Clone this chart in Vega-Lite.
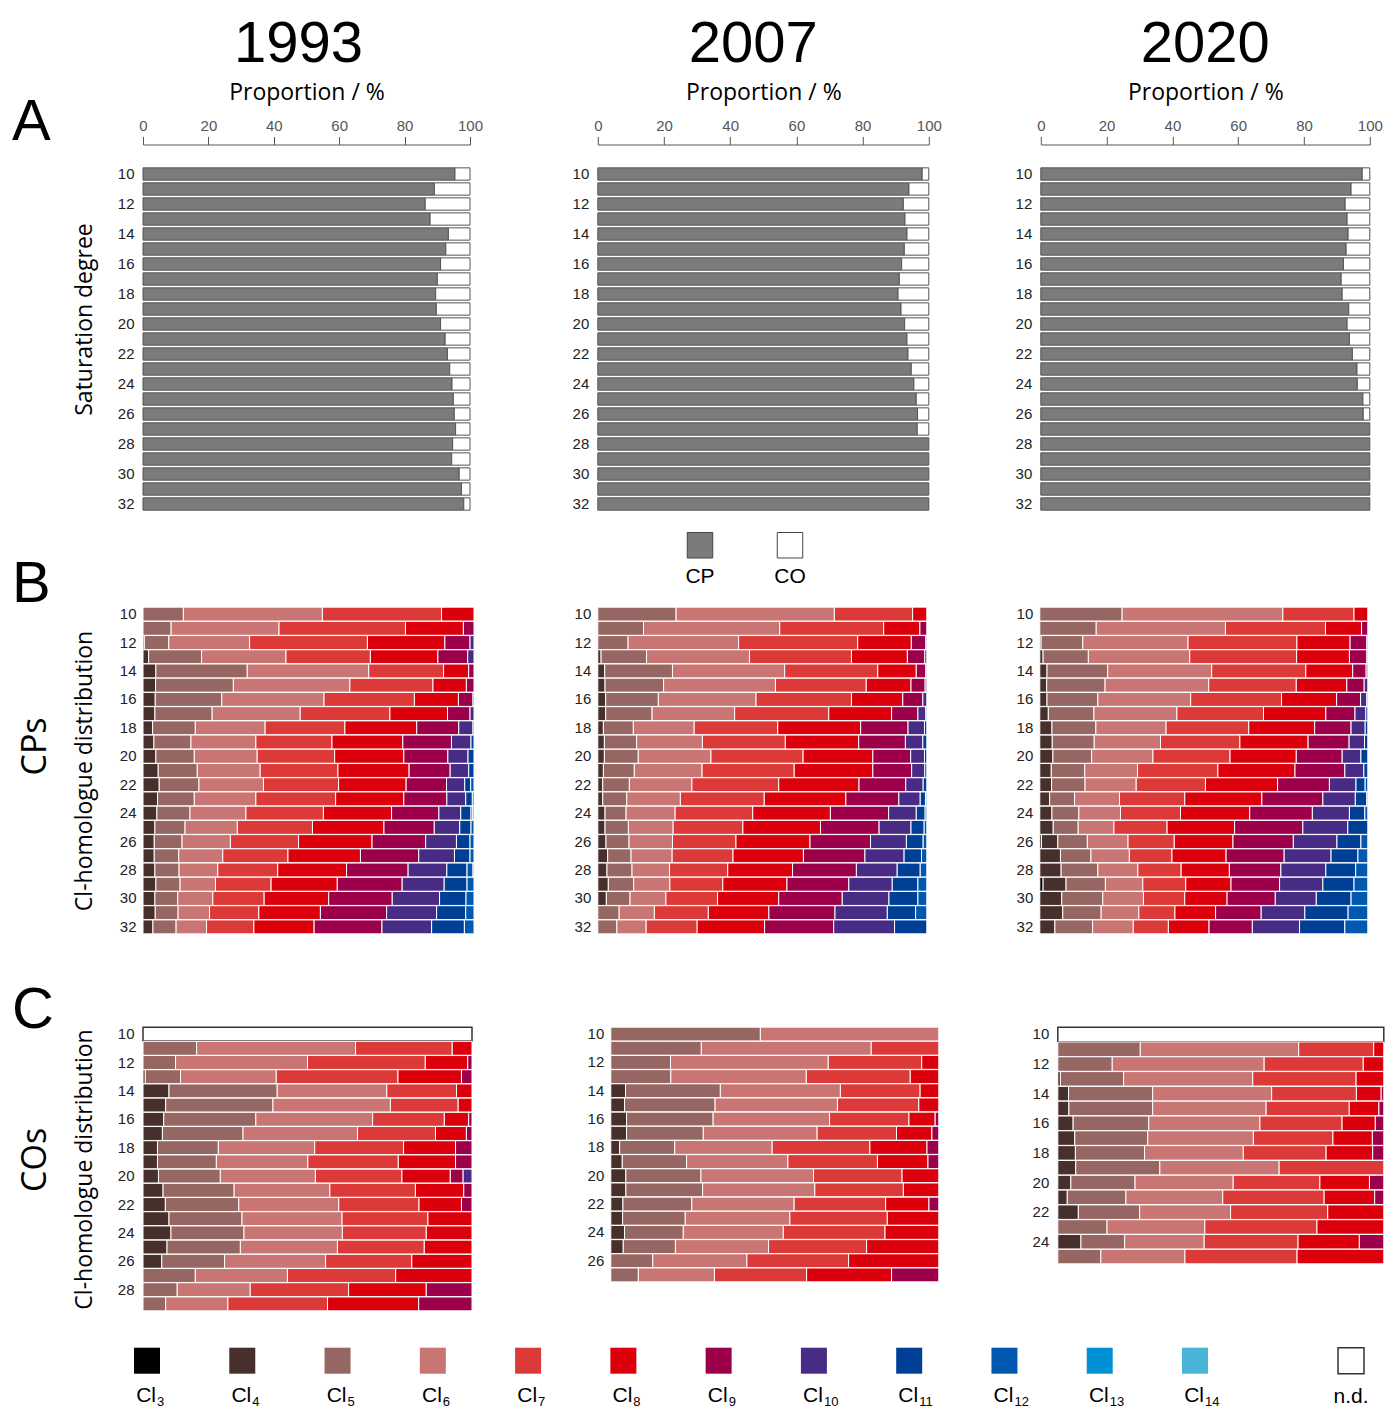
{
"$schema": "https://vega.github.io/schema/vega-lite/v6.json",
"background": "white",
"padding": {"left": 12, "top": 15.5, "right": 0, "bottom": 0},
"config": {
  "view": {"stroke": null},
  "axis": {"labelFont": "Liberation Sans", "labelFontSize": 15, "labelColor": "#222", "titleFont": "Open Sans", "titleFontSize": 23, "titleFontWeight": "normal", "titleColor": "#000", "grid": false},
  "title": {"font": "Liberation Sans", "fontWeight": "normal", "color": "#000"},
  "text": {"font": "Liberation Sans", "color": "#000"}
},
"datasets": {
  "sat": [
    {"yr":1993,"n":10,"CP":95.4,"CO":4.6},{"yr":1993,"n":11,"CP":89.1,"CO":10.9},{"yr":1993,"n":12,"CP":86.3,"CO":13.7},{"yr":1993,"n":13,"CP":87.8,"CO":12.2},{"yr":1993,"n":14,"CP":93.4,"CO":6.6},{"yr":1993,"n":15,"CP":92.6,"CO":7.4},{"yr":1993,"n":16,"CP":91.0,"CO":9.0},{"yr":1993,"n":17,"CP":90.0,"CO":10.0},{"yr":1993,"n":18,"CP":89.5,"CO":10.5},{"yr":1993,"n":19,"CP":89.7,"CO":10.3},{"yr":1993,"n":20,"CP":91.0,"CO":9.0},{"yr":1993,"n":21,"CP":92.4,"CO":7.6},{"yr":1993,"n":22,"CP":93.1,"CO":6.9},{"yr":1993,"n":23,"CP":93.8,"CO":6.2},{"yr":1993,"n":24,"CP":94.5,"CO":5.5},{"yr":1993,"n":25,"CP":94.9,"CO":5.1},{"yr":1993,"n":26,"CP":95.2,"CO":4.8},{"yr":1993,"n":27,"CP":95.6,"CO":4.4},{"yr":1993,"n":28,"CP":94.7,"CO":5.3},{"yr":1993,"n":29,"CP":94.4,"CO":5.6},{"yr":1993,"n":30,"CP":96.7,"CO":3.3},{"yr":1993,"n":31,"CP":97.4,"CO":2.6},{"yr":1993,"n":32,"CP":98.1,"CO":1.9},
    {"yr":2007,"n":10,"CP":98.0,"CO":2.0},{"yr":2007,"n":11,"CP":94.0,"CO":6.0},{"yr":2007,"n":12,"CP":92.3,"CO":7.7},{"yr":2007,"n":13,"CP":92.8,"CO":7.2},{"yr":2007,"n":14,"CP":93.4,"CO":6.6},{"yr":2007,"n":15,"CP":92.6,"CO":7.4},{"yr":2007,"n":16,"CP":91.8,"CO":8.2},{"yr":2007,"n":17,"CP":91.1,"CO":8.9},{"yr":2007,"n":18,"CP":90.7,"CO":9.3},{"yr":2007,"n":19,"CP":91.6,"CO":8.4},{"yr":2007,"n":20,"CP":92.7,"CO":7.3},{"yr":2007,"n":21,"CP":93.4,"CO":6.6},{"yr":2007,"n":22,"CP":93.7,"CO":6.3},{"yr":2007,"n":23,"CP":94.7,"CO":5.3},{"yr":2007,"n":24,"CP":95.5,"CO":4.5},{"yr":2007,"n":25,"CP":96.2,"CO":3.8},{"yr":2007,"n":26,"CP":96.6,"CO":3.4},{"yr":2007,"n":27,"CP":96.5,"CO":3.5},{"yr":2007,"n":28,"CP":100},{"yr":2007,"n":29,"CP":100},{"yr":2007,"n":30,"CP":100},{"yr":2007,"n":31,"CP":100},{"yr":2007,"n":32,"CP":100},
    {"yr":2020,"n":10,"CP":97.7,"CO":2.3},{"yr":2020,"n":11,"CP":94.3,"CO":5.7},{"yr":2020,"n":12,"CP":92.5,"CO":7.5},{"yr":2020,"n":13,"CP":93.1,"CO":6.9},{"yr":2020,"n":14,"CP":93.4,"CO":6.6},{"yr":2020,"n":15,"CP":92.8,"CO":7.2},{"yr":2020,"n":16,"CP":92.0,"CO":8.0},{"yr":2020,"n":17,"CP":91.3,"CO":8.7},{"yr":2020,"n":18,"CP":91.6,"CO":8.4},{"yr":2020,"n":19,"CP":93.6,"CO":6.4},{"yr":2020,"n":20,"CP":93.1,"CO":6.9},{"yr":2020,"n":21,"CP":93.8,"CO":6.2},{"yr":2020,"n":22,"CP":94.7,"CO":5.3},{"yr":2020,"n":23,"CP":96.1,"CO":3.9},{"yr":2020,"n":24,"CP":96.2,"CO":3.8},{"yr":2020,"n":25,"CP":97.9,"CO":2.1},{"yr":2020,"n":26,"CP":98.0,"CO":2.0},{"yr":2020,"n":27,"CP":100},{"yr":2020,"n":28,"CP":100},{"yr":2020,"n":29,"CP":100},{"yr":2020,"n":30,"CP":100},{"yr":2020,"n":31,"CP":100},{"yr":2020,"n":32,"CP":100}
  ],
  "cp": [
    {"yr":1993,"n":10,"Cl05":12.2,"Cl06":42.0,"Cl07":36.0,"Cl08":9.8},
    {"yr":1993,"n":11,"Cl05":8.5,"Cl06":32.6,"Cl07":38.2,"Cl08":17.5,"Cl09":3.2},
    {"yr":1993,"n":12,"Cl04":0.4,"Cl05":7.4,"Cl06":24.4,"Cl07":35.6,"Cl08":23.4,"Cl09":7.6,"Cl10":1.2},
    {"yr":1993,"n":13,"Cl04":1.7,"Cl05":16.0,"Cl06":25.5,"Cl07":25.5,"Cl08":20.4,"Cl09":9.0,"Cl10":1.9},
    {"yr":1993,"n":14,"Cl04":3.9,"Cl05":27.6,"Cl06":36.7,"Cl07":22.6,"Cl08":7.6,"Cl09":1.6},
    {"yr":1993,"n":15,"Cl04":3.8,"Cl05":23.5,"Cl06":35.2,"Cl07":25.1,"Cl08":10.1,"Cl09":2.3},
    {"yr":1993,"n":16,"Cl04":3.7,"Cl05":20.1,"Cl06":30.9,"Cl07":27.3,"Cl08":13.3,"Cl09":4.4,"Cl10":0.3},
    {"yr":1993,"n":17,"Cl04":3.6,"Cl05":17.3,"Cl06":26.6,"Cl07":27.1,"Cl08":17.4,"Cl09":6.8,"Cl10":1.2},
    {"yr":1993,"n":18,"Cl04":2.9,"Cl05":12.9,"Cl06":21.1,"Cl07":24.1,"Cl08":21.7,"Cl09":12.7,"Cl10":4.3,"Cl11":0.3},
    {"yr":1993,"n":19,"Cl04":3.3,"Cl05":11.2,"Cl06":19.6,"Cl07":23.0,"Cl08":21.4,"Cl09":14.7,"Cl10":5.9,"Cl11":0.9},
    {"yr":1993,"n":20,"Cl04":3.9,"Cl05":11.6,"Cl06":19.0,"Cl07":23.4,"Cl08":20.9,"Cl09":13.3,"Cl10":6.1,"Cl11":1.8},
    {"yr":1993,"n":21,"Cl04":4.6,"Cl05":11.8,"Cl06":19.0,"Cl07":23.5,"Cl08":21.5,"Cl09":12.4,"Cl10":5.6,"Cl11":1.6},
    {"yr":1993,"n":22,"Cl04":4.9,"Cl05":12.0,"Cl06":19.5,"Cl07":22.7,"Cl08":20.4,"Cl09":12.2,"Cl10":5.5,"Cl11":1.8,"Cl12":1.0},
    {"yr":1993,"n":23,"Cl04":4.4,"Cl05":11.1,"Cl06":18.6,"Cl07":24.1,"Cl08":20.6,"Cl09":13.0,"Cl10":5.7,"Cl11":2.0,"Cl12":0.5},
    {"yr":1993,"n":24,"Cl04":4.2,"Cl05":10.0,"Cl06":16.9,"Cl07":23.4,"Cl08":20.6,"Cl09":14.3,"Cl10":6.6,"Cl11":3.1,"Cl12":0.5,"Cl13":0.4},
    {"yr":1993,"n":25,"Cl04":3.6,"Cl05":9.1,"Cl06":15.8,"Cl07":22.7,"Cl08":21.6,"Cl09":15.2,"Cl10":7.7,"Cl11":3.4,"Cl12":0.9},
    {"yr":1993,"n":26,"Cl04":3.4,"Cl05":8.4,"Cl06":14.6,"Cl07":20.6,"Cl08":22.2,"Cl09":16.2,"Cl10":9.3,"Cl11":4.1,"Cl12":1.2},
    {"yr":1993,"n":27,"Cl04":3.4,"Cl05":7.4,"Cl06":13.3,"Cl07":19.7,"Cl08":21.9,"Cl09":17.6,"Cl10":10.8,"Cl11":4.7,"Cl12":1.2},
    {"yr":1993,"n":28,"Cl04":3.6,"Cl05":7.3,"Cl06":11.7,"Cl07":18.1,"Cl08":20.8,"Cl09":18.6,"Cl10":11.7,"Cl11":6.1,"Cl12":1.8,"Cl13":0.3},
    {"yr":1993,"n":29,"Cl04":3.9,"Cl05":7.3,"Cl06":10.7,"Cl07":16.8,"Cl08":20.0,"Cl09":19.6,"Cl10":12.7,"Cl11":6.9,"Cl12":2.1},
    {"yr":1993,"n":30,"Cl04":3.6,"Cl05":6.9,"Cl06":10.6,"Cl07":15.5,"Cl08":19.5,"Cl09":19.2,"Cl10":14.3,"Cl11":8.0,"Cl12":2.4},
    {"yr":1993,"n":31,"Cl04":3.7,"Cl05":6.9,"Cl06":9.5,"Cl07":14.9,"Cl08":18.6,"Cl09":20.0,"Cl10":15.1,"Cl11":8.8,"Cl12":2.5},
    {"yr":1993,"n":32,"Cl04":3.0,"Cl05":7.0,"Cl06":9.2,"Cl07":14.3,"Cl08":18.2,"Cl09":20.5,"Cl10":15.0,"Cl11":9.9,"Cl12":2.9},
    {"yr":2007,"n":10,"Cl05":23.8,"Cl06":48.1,"Cl07":23.8,"Cl08":4.3},
    {"yr":2007,"n":11,"Cl05":13.9,"Cl06":41.4,"Cl07":31.6,"Cl08":11.0,"Cl09":2.1},
    {"yr":2007,"n":12,"Cl05":9.2,"Cl06":33.6,"Cl07":36.2,"Cl08":16.3,"Cl09":4.4,"Cl10":0.3},
    {"yr":2007,"n":13,"Cl04":1.0,"Cl05":13.8,"Cl06":31.3,"Cl07":31.0,"Cl08":17.0,"Cl09":5.3,"Cl10":0.6},
    {"yr":2007,"n":14,"Cl04":2.1,"Cl05":20.6,"Cl06":34.1,"Cl07":28.3,"Cl08":11.7,"Cl09":2.9,"Cl10":0.3},
    {"yr":2007,"n":15,"Cl04":2.2,"Cl05":17.8,"Cl06":34.0,"Cl07":27.6,"Cl08":13.6,"Cl09":4.3,"Cl10":0.5},
    {"yr":2007,"n":16,"Cl04":2.4,"Cl05":16.0,"Cl06":29.7,"Cl07":29.0,"Cl08":15.6,"Cl09":6.1,"Cl10":1.2},
    {"yr":2007,"n":17,"Cl04":2.4,"Cl05":14.1,"Cl06":25.1,"Cl07":28.6,"Cl08":19.1,"Cl09":8.0,"Cl10":2.4,"Cl11":0.3},
    {"yr":2007,"n":18,"Cl04":1.7,"Cl05":9.1,"Cl06":18.5,"Cl07":25.4,"Cl08":25.2,"Cl09":14.4,"Cl10":5.0,"Cl11":0.7},
    {"yr":2007,"n":19,"Cl04":2.0,"Cl05":9.8,"Cl06":20.0,"Cl07":25.2,"Cl08":22.3,"Cl09":14.2,"Cl10":5.3,"Cl11":1.2},
    {"yr":2007,"n":20,"Cl04":2.0,"Cl05":10.3,"Cl06":22.1,"Cl07":28.0,"Cl08":21.2,"Cl09":11.5,"Cl10":4.2,"Cl11":0.7},
    {"yr":2007,"n":21,"Cl04":1.7,"Cl05":9.4,"Cl06":20.6,"Cl07":28.0,"Cl08":23.9,"Cl09":11.8,"Cl10":4.0,"Cl11":0.6},
    {"yr":2007,"n":22,"Cl04":1.5,"Cl05":8.1,"Cl06":19.0,"Cl07":26.4,"Cl08":24.4,"Cl09":14.2,"Cl10":5.3,"Cl11":1.1},
    {"yr":2007,"n":23,"Cl04":1.5,"Cl05":7.3,"Cl06":16.3,"Cl07":25.5,"Cl08":24.8,"Cl09":16.1,"Cl10":6.5,"Cl11":1.6,"Cl12":0.4},
    {"yr":2007,"n":24,"Cl04":2.2,"Cl05":6.4,"Cl06":14.9,"Cl07":23.6,"Cl08":23.6,"Cl09":17.7,"Cl10":8.4,"Cl11":2.7,"Cl12":0.5},
    {"yr":2007,"n":25,"Cl04":2.2,"Cl05":7.1,"Cl06":13.6,"Cl07":21.2,"Cl08":23.6,"Cl09":17.8,"Cl10":9.7,"Cl11":4.0,"Cl12":0.8},
    {"yr":2007,"n":26,"Cl04":2.5,"Cl05":7.0,"Cl06":13.2,"Cl07":19.3,"Cl08":22.5,"Cl09":18.4,"Cl10":10.9,"Cl11":5.1,"Cl12":1.1},
    {"yr":2007,"n":27,"Cl04":3.0,"Cl05":7.1,"Cl06":12.5,"Cl07":18.5,"Cl08":21.4,"Cl09":18.7,"Cl10":11.9,"Cl11":5.3,"Cl12":1.6},
    {"yr":2007,"n":28,"Cl04":2.8,"Cl05":7.6,"Cl06":11.4,"Cl07":17.7,"Cl08":19.7,"Cl09":19.4,"Cl10":12.4,"Cl11":7.0,"Cl12":2.0},
    {"yr":2007,"n":29,"Cl04":3.2,"Cl05":7.7,"Cl06":11.0,"Cl07":16.1,"Cl08":19.5,"Cl09":18.8,"Cl10":13.2,"Cl11":7.8,"Cl12":2.7},
    {"yr":2007,"n":30,"Cl04":2.6,"Cl05":7.2,"Cl06":10.9,"Cl07":15.7,"Cl08":18.6,"Cl09":19.3,"Cl10":14.2,"Cl11":8.8,"Cl12":2.7},
    {"yr":2007,"n":31,"Cl05":6.5,"Cl06":10.7,"Cl07":16.4,"Cl08":18.4,"Cl09":20.1,"Cl10":15.9,"Cl11":8.6,"Cl12":3.4},
    {"yr":2007,"n":32,"Cl05":5.8,"Cl06":8.9,"Cl07":15.5,"Cl08":20.5,"Cl09":21.0,"Cl10":18.5,"Cl11":9.8},
    {"yr":2020,"n":10,"Cl05":25.1,"Cl06":49.0,"Cl07":21.7,"Cl08":4.2},
    {"yr":2020,"n":11,"Cl05":17.2,"Cl06":39.4,"Cl07":30.5,"Cl08":11.0,"Cl09":1.9},
    {"yr":2020,"n":12,"Cl04":0.4,"Cl05":12.7,"Cl06":32.1,"Cl07":33.2,"Cl08":16.2,"Cl09":5.1,"Cl10":0.3},
    {"yr":2020,"n":13,"Cl04":1.0,"Cl05":13.8,"Cl06":30.9,"Cl07":32.6,"Cl08":16.1,"Cl09":5.3,"Cl10":0.3},
    {"yr":2020,"n":14,"Cl04":2.2,"Cl05":18.5,"Cl06":31.7,"Cl07":28.7,"Cl08":14.3,"Cl09":4.1,"Cl10":0.5},
    {"yr":2020,"n":15,"Cl04":2.1,"Cl05":17.8,"Cl06":31.6,"Cl07":26.7,"Cl08":15.4,"Cl09":5.3,"Cl10":1.1},
    {"yr":2020,"n":16,"Cl04":2.2,"Cl05":15.5,"Cl06":28.3,"Cl07":27.7,"Cl08":16.8,"Cl09":7.3,"Cl10":1.9,"Cl11":0.3},
    {"yr":2020,"n":17,"Cl04":2.6,"Cl05":13.9,"Cl06":25.3,"Cl07":26.4,"Cl08":19.0,"Cl09":8.9,"Cl10":3.3,"Cl11":0.6},
    {"yr":2020,"n":18,"Cl04":3.7,"Cl05":13.4,"Cl06":21.4,"Cl07":25.2,"Cl08":20.1,"Cl09":11.1,"Cl10":4.3,"Cl11":0.8},
    {"yr":2020,"n":19,"Cl04":3.8,"Cl05":12.8,"Cl06":20.2,"Cl07":24.2,"Cl08":20.8,"Cl09":12.5,"Cl10":4.7,"Cl11":1.0},
    {"yr":2020,"n":20,"Cl04":4.0,"Cl05":11.8,"Cl06":18.7,"Cl07":23.5,"Cl08":20.2,"Cl09":14.0,"Cl10":5.7,"Cl11":2.1},
    {"yr":2020,"n":21,"Cl04":3.5,"Cl05":10.2,"Cl06":16.1,"Cl07":24.5,"Cl08":23.5,"Cl09":15.2,"Cl10":5.8,"Cl11":1.2},
    {"yr":2020,"n":22,"Cl04":3.6,"Cl05":10.2,"Cl06":15.6,"Cl07":21.1,"Cl08":22.0,"Cl09":15.8,"Cl10":8.1,"Cl11":2.8,"Cl12":0.8},
    {"yr":2020,"n":23,"Cl04":3.0,"Cl05":7.6,"Cl06":13.7,"Cl07":19.9,"Cl08":23.5,"Cl09":18.6,"Cl10":9.9,"Cl11":3.5,"Cl12":0.3},
    {"yr":2020,"n":24,"Cl04":3.7,"Cl05":8.2,"Cl06":12.7,"Cl07":18.3,"Cl08":21.1,"Cl09":19.1,"Cl10":11.3,"Cl11":4.7,"Cl12":0.9},
    {"yr":2020,"n":25,"Cl04":4.1,"Cl05":7.6,"Cl06":10.9,"Cl07":16.2,"Cl08":20.6,"Cl09":20.8,"Cl10":13.7,"Cl11":6.1},
    {"yr":2020,"n":26,"Cl03":0.5,"Cl04":5.0,"Cl05":9.0,"Cl06":12.4,"Cl07":14.1,"Cl08":17.9,"Cl09":18.4,"Cl10":13.3,"Cl11":7.3,"Cl12":2.1},
    {"yr":2020,"n":27,"Cl04":6.3,"Cl05":9.3,"Cl06":11.7,"Cl07":13.0,"Cl08":16.5,"Cl09":17.7,"Cl10":14.3,"Cl11":8.2,"Cl12":3.0},
    {"yr":2020,"n":28,"Cl04":6.5,"Cl05":11.2,"Cl06":12.2,"Cl07":13.2,"Cl08":14.7,"Cl09":15.7,"Cl10":13.7,"Cl11":9.1,"Cl12":3.7},
    {"yr":2020,"n":29,"Cl03":1.0,"Cl04":7.0,"Cl05":12.0,"Cl06":11.4,"Cl07":13.1,"Cl08":13.8,"Cl09":14.8,"Cl10":13.2,"Cl11":9.5,"Cl12":4.2},
    {"yr":2020,"n":30,"Cl04":6.7,"Cl05":12.5,"Cl06":12.4,"Cl07":12.6,"Cl08":12.9,"Cl09":14.7,"Cl10":12.5,"Cl11":10.6,"Cl12":5.1},
    {"yr":2020,"n":31,"Cl04":7.0,"Cl05":11.7,"Cl06":11.5,"Cl07":11.0,"Cl08":12.4,"Cl09":13.9,"Cl10":13.3,"Cl11":13.2,"Cl12":6.0},
    {"yr":2020,"n":32,"Cl04":4.6,"Cl05":11.5,"Cl06":12.4,"Cl07":10.7,"Cl08":12.4,"Cl09":13.2,"Cl10":14.4,"Cl11":13.8,"Cl12":7.0}
  ],
  "co": [
    {"yr":1993,"n":10,"nd":100},
    {"yr":1993,"n":11,"Cl05":16.3,"Cl06":48.3,"Cl07":29.4,"Cl08":6.0},
    {"yr":1993,"n":12,"Cl05":9.9,"Cl06":40.1,"Cl07":35.8,"Cl08":12.9,"Cl09":1.3},
    {"yr":1993,"n":13,"Cl04":0.7,"Cl05":10.7,"Cl06":29.1,"Cl07":37.0,"Cl08":19.3,"Cl09":3.2},
    {"yr":1993,"n":14,"Cl04":7.9,"Cl05":32.9,"Cl06":33.3,"Cl07":21.2,"Cl08":4.7},
    {"yr":1993,"n":15,"Cl04":6.9,"Cl05":32.6,"Cl06":35.7,"Cl07":20.6,"Cl08":4.2},
    {"yr":1993,"n":16,"Cl04":6.3,"Cl05":28.0,"Cl06":35.5,"Cl07":21.8,"Cl08":7.4,"Cl09":1.0},
    {"yr":1993,"n":17,"Cl04":5.9,"Cl05":24.5,"Cl06":34.8,"Cl07":23.7,"Cl08":9.4,"Cl09":1.7},
    {"yr":1993,"n":18,"Cl04":4.4,"Cl05":18.5,"Cl06":29.3,"Cl07":27.0,"Cl08":15.8,"Cl09":5.0},
    {"yr":1993,"n":19,"Cl04":4.4,"Cl05":17.9,"Cl06":27.8,"Cl07":27.5,"Cl08":17.4,"Cl09":5.0},
    {"yr":1993,"n":20,"Cl04":4.7,"Cl05":18.8,"Cl06":28.9,"Cl07":26.3,"Cl08":14.7,"Cl09":3.9,"Cl10":2.7},
    {"yr":1993,"n":21,"Cl04":6.1,"Cl05":21.6,"Cl06":29.1,"Cl07":26.0,"Cl08":14.7,"Cl09":2.5},
    {"yr":1993,"n":22,"Cl04":6.8,"Cl05":22.3,"Cl06":30.4,"Cl07":24.4,"Cl08":12.9,"Cl09":3.2},
    {"yr":1993,"n":23,"Cl04":7.9,"Cl05":22.2,"Cl06":30.4,"Cl07":26.1,"Cl08":13.4},
    {"yr":1993,"n":24,"Cl04":8.5,"Cl05":22.2,"Cl06":29.9,"Cl07":25.5,"Cl08":13.9},
    {"yr":1993,"n":25,"Cl04":7.3,"Cl05":22.3,"Cl06":29.5,"Cl07":26.4,"Cl08":14.5},
    {"yr":1993,"n":26,"Cl04":5.7,"Cl05":19.1,"Cl06":30.7,"Cl07":26.2,"Cl08":18.3},
    {"yr":1993,"n":27,"Cl05":15.9,"Cl06":28.0,"Cl07":32.9,"Cl08":23.2},
    {"yr":1993,"n":28,"Cl05":10.4,"Cl06":22.2,"Cl07":29.9,"Cl08":23.6,"Cl09":13.9},
    {"yr":1993,"n":29,"Cl05":6.9,"Cl06":18.9,"Cl07":30.3,"Cl08":27.7,"Cl09":16.2},
    {"yr":2007,"n":10,"Cl05":45.6,"Cl06":54.4},
    {"yr":2007,"n":11,"Cl05":27.6,"Cl06":51.8,"Cl07":20.6},
    {"yr":2007,"n":12,"Cl05":18.2,"Cl06":48.1,"Cl07":28.5,"Cl08":5.2},
    {"yr":2007,"n":13,"Cl05":18.3,"Cl06":41.3,"Cl07":31.7,"Cl08":8.7},
    {"yr":2007,"n":14,"Cl04":4.5,"Cl05":28.9,"Cl06":36.6,"Cl07":24.3,"Cl08":5.7},
    {"yr":2007,"n":15,"Cl04":4.2,"Cl05":27.6,"Cl06":37.3,"Cl07":24.8,"Cl08":6.1},
    {"yr":2007,"n":16,"Cl04":4.8,"Cl05":26.4,"Cl06":35.5,"Cl07":24.2,"Cl08":8.0,"Cl09":1.1},
    {"yr":2007,"n":17,"Cl04":4.8,"Cl05":23.4,"Cl06":34.7,"Cl07":24.2,"Cl08":10.8,"Cl09":2.1},
    {"yr":2007,"n":18,"Cl04":2.7,"Cl05":16.8,"Cl06":29.7,"Cl07":29.8,"Cl08":17.4,"Cl09":3.6},
    {"yr":2007,"n":19,"Cl04":3.5,"Cl05":19.6,"Cl06":30.9,"Cl07":27.3,"Cl08":15.4,"Cl09":3.3},
    {"yr":2007,"n":20,"Cl04":4.6,"Cl05":22.9,"Cl06":34.3,"Cl07":27.0,"Cl08":11.2},
    {"yr":2007,"n":21,"Cl04":4.6,"Cl05":23.4,"Cl06":34.2,"Cl07":27.0,"Cl08":10.8},
    {"yr":2007,"n":22,"Cl04":3.7,"Cl05":21.0,"Cl06":31.2,"Cl07":27.9,"Cl08":13.2,"Cl09":3.0},
    {"yr":2007,"n":23,"Cl04":3.6,"Cl05":19.1,"Cl06":31.9,"Cl07":29.7,"Cl08":15.7},
    {"yr":2007,"n":24,"Cl04":4.2,"Cl05":17.9,"Cl06":30.5,"Cl07":31.0,"Cl08":16.4},
    {"yr":2007,"n":25,"Cl04":3.8,"Cl05":15.9,"Cl06":28.4,"Cl07":29.9,"Cl08":22.0},
    {"yr":2007,"n":26,"Cl05":12.8,"Cl06":28.7,"Cl07":31.0,"Cl08":27.5},
    {"yr":2007,"n":27,"Cl05":8.4,"Cl06":23.2,"Cl07":28.1,"Cl08":25.9,"Cl09":14.4},
    {"yr":2020,"n":10,"nd":100},
    {"yr":2020,"n":11,"Cl05":25.3,"Cl06":48.6,"Cl07":23.0,"Cl08":3.1},
    {"yr":2020,"n":12,"Cl05":16.7,"Cl06":46.6,"Cl07":30.4,"Cl08":6.3},
    {"yr":2020,"n":13,"Cl04":0.8,"Cl05":19.4,"Cl06":39.6,"Cl07":31.7,"Cl08":8.5},
    {"yr":2020,"n":14,"Cl04":3.3,"Cl05":25.8,"Cl06":36.5,"Cl07":26.0,"Cl08":7.6,"Cl09":0.8},
    {"yr":2020,"n":15,"Cl04":3.4,"Cl05":25.7,"Cl06":34.8,"Cl07":25.5,"Cl08":9.1,"Cl09":1.5},
    {"yr":2020,"n":16,"Cl04":4.7,"Cl05":23.2,"Cl06":34.1,"Cl07":25.2,"Cl08":10.2,"Cl09":2.6},
    {"yr":2020,"n":17,"Cl04":5.2,"Cl05":22.4,"Cl06":32.4,"Cl07":24.4,"Cl08":12.1,"Cl09":3.5},
    {"yr":2020,"n":18,"Cl04":5.4,"Cl05":21.2,"Cl06":30.3,"Cl07":25.4,"Cl08":14.3,"Cl09":3.4},
    {"yr":2020,"n":19,"Cl04":5.5,"Cl05":25.8,"Cl06":36.6,"Cl07":32.1},
    {"yr":2020,"n":20,"Cl04":4.0,"Cl05":19.7,"Cl06":30.1,"Cl07":26.6,"Cl08":15.2,"Cl09":4.4},
    {"yr":2020,"n":21,"Cl04":2.9,"Cl05":18.0,"Cl06":29.7,"Cl07":31.1,"Cl08":15.5,"Cl09":2.8},
    {"yr":2020,"n":22,"Cl04":6.3,"Cl05":18.8,"Cl06":27.9,"Cl07":29.8,"Cl08":17.2},
    {"yr":2020,"n":23,"Cl05":15.1,"Cl06":30.0,"Cl07":34.4,"Cl08":20.5},
    {"yr":2020,"n":24,"Cl04":7.1,"Cl05":13.4,"Cl06":24.4,"Cl07":28.8,"Cl08":18.8,"Cl09":7.5},
    {"yr":2020,"n":25,"Cl05":13.2,"Cl06":25.8,"Cl07":34.4,"Cl08":26.6}
  ],
  "legcl": [
    {"key":"Cl03","sub":"3"},{"key":"Cl04","sub":"4"},{"key":"Cl05","sub":"5"},{"key":"Cl06","sub":"6"},{"key":"Cl07","sub":"7"},{"key":"Cl08","sub":"8"},{"key":"Cl09","sub":"9"},{"key":"Cl10","sub":"10"},{"key":"Cl11","sub":"11"},{"key":"Cl12","sub":"12"},{"key":"Cl13","sub":"13"},{"key":"Cl14","sub":"14"}
  ]
},
"spacing": -31.5,
"vconcat": [
  {"spacing": 18.75, "vconcat": [
    {"title": {"text": "A", "orient": "top", "anchor": "start", "frame": "group", "fontSize": 58, "offset": 0, "dx": -131, "dy": 136},
     "spacing": 72.8,
     "hconcat": [
      {"spacing": 88.8, "hconcat": [
        {"width": 327, "height": 345,
         "title": {"text": "1993", "fontSize": 58, "frame": "group", "anchor": "middle", "offset": 7.3, "dx": -8},
         "data": {"name": "sat"},
         "transform": [{"filter": "datum.yr == 1993"}, {"fold": ["CP","CO"], "as": ["key","value"]}, {"filter": "datum.value > 0"}],
         "mark": {"type": "bar", "stroke": "#555", "strokeWidth": 1},
         "encoding": {
           "y": {"field": "n", "type": "ordinal", "scale": {"paddingInner": 0.18, "paddingOuter": 0.09}, "axis": {"values": [10,12,14,16,18,20,22,24,26,28,30,32], "domain": false, "ticks": false, "labelPadding": 9, "labelOverlap": false, "title": "Saturation degree", "titlePadding": 21, "titleY": 152.5}},
           "x": {"field": "value", "type": "quantitative", "stack": "zero", "scale": {"domain": [0,100], "nice": false}, "axis": {"orient": "top", "values": [0,20,40,60,80,100], "offset": 22, "tickSize": 8, "tickColor": "#555", "domainColor": "#555", "labelColor": "#555", "labelPadding": 3, "labelFlush": false, "title": "Proportion / %", "titlePadding": 14.5}},
           "color": {"field": "key", "type": "nominal", "legend": null, "scale": {"domain": ["CP","CO","Cl03","Cl04","Cl05","Cl06","Cl07","Cl08","Cl09","Cl10","Cl11","Cl12","Cl13","Cl14","nd"], "range": ["#7b7b7b","#ffffff","#000000","#47302c","#966662","#c87573","#dc3a38","#db000b","#9c004a","#482b84","#003f96","#0058b0","#0090d6","#48b4d8","#ffffff"]}},
           "order": {"field": "key", "sort": "descending"}
         }},
        {"width": 331, "height": 345,
         "title": {"text": "2007", "fontSize": 58, "frame": "group", "anchor": "middle", "offset": 7.3, "dx": -10},
         "data": {"name": "sat"},
         "transform": [{"filter": "datum.yr == 2007"}, {"fold": ["CP","CO"], "as": ["key","value"]}, {"filter": "datum.value > 0"}],
         "mark": {"type": "bar", "stroke": "#555", "strokeWidth": 1},
         "encoding": {
           "y": {"field": "n", "type": "ordinal", "scale": {"paddingInner": 0.18, "paddingOuter": 0.09}, "axis": {"values": [10,12,14,16,18,20,22,24,26,28,30,32], "domain": false, "ticks": false, "labelPadding": 9, "labelOverlap": false, "title": null}},
           "x": {"field": "value", "type": "quantitative", "stack": "zero", "scale": {"domain": [0,100], "nice": false}, "axis": {"orient": "top", "values": [0,20,40,60,80,100], "offset": 22, "tickSize": 8, "tickColor": "#555", "domainColor": "#555", "labelColor": "#555", "labelPadding": 3, "labelFlush": false, "title": "Proportion / %", "titlePadding": 14.5}},
           "color": {"field": "key", "type": "nominal", "legend": null, "scale": {"domain": ["CP","CO","Cl03","Cl04","Cl05","Cl06","Cl07","Cl08","Cl09","Cl10","Cl11","Cl12","Cl13","Cl14","nd"], "range": ["#7b7b7b","#ffffff","#000000","#47302c","#966662","#c87573","#dc3a38","#db000b","#9c004a","#482b84","#003f96","#0058b0","#0090d6","#48b4d8","#ffffff"]}},
           "order": {"field": "key", "sort": "descending"}
         }}
      ]},
      {"width": 329, "height": 345,
       "title": {"text": "2020", "fontSize": 58, "frame": "group", "anchor": "middle", "offset": 7.3},
       "data": {"name": "sat"},
       "transform": [{"filter": "datum.yr == 2020"}, {"fold": ["CP","CO"], "as": ["key","value"]}, {"filter": "datum.value > 0"}],
       "mark": {"type": "bar", "stroke": "#555", "strokeWidth": 1},
       "encoding": {
         "y": {"field": "n", "type": "ordinal", "scale": {"paddingInner": 0.18, "paddingOuter": 0.09}, "axis": {"values": [10,12,14,16,18,20,22,24,26,28,30,32], "domain": false, "ticks": false, "labelPadding": 9, "labelOverlap": false, "title": null}},
         "x": {"field": "value", "type": "quantitative", "stack": "zero", "scale": {"domain": [0,100], "nice": false}, "axis": {"orient": "top", "values": [0,20,40,60,80,100], "offset": 22, "tickSize": 8, "tickColor": "#555", "domainColor": "#555", "labelColor": "#555", "labelPadding": 3, "labelFlush": false, "title": "Proportion / %", "titlePadding": 14.5}},
         "color": {"field": "key", "type": "nominal", "legend": null, "scale": {"domain": ["CP","CO","Cl03","Cl04","Cl05","Cl06","Cl07","Cl08","Cl09","Cl10","Cl11","Cl12","Cl13","Cl14","nd"], "range": ["#7b7b7b","#ffffff","#000000","#47302c","#966662","#c87573","#dc3a38","#db000b","#9c004a","#482b84","#003f96","#0058b0","#0090d6","#48b4d8","#ffffff"]}},
         "order": {"field": "key", "sort": "descending"}
       }}
    ]},
    {"width": 700, "height": 24,
     "data": {"values": [{"key": "CP"}, {"key": "CO"}]},
     "encoding": {"x": {"field": "key", "type": "nominal", "sort": ["CP","CO"], "scale": {"type": "point", "range": [557, 647], "padding": 0}, "axis": null}},
     "layer": [
       {"mark": {"type": "point", "shape": "square", "size": 650, "filled": true, "opacity": 1, "stroke": "#444", "strokeWidth": 1},
        "encoding": {"color": {"field": "key", "type": "nominal", "legend": null, "scale": {"domain": ["CP","CO","Cl03","Cl04","Cl05","Cl06","Cl07","Cl08","Cl09","Cl10","Cl11","Cl12","Cl13","Cl14","nd"], "range": ["#7b7b7b","#ffffff","#000000","#47302c","#966662","#c87573","#dc3a38","#db000b","#9c004a","#482b84","#003f96","#0058b0","#0090d6","#48b4d8","#ffffff"]}}}},
       {"mark": {"type": "text", "baseline": "alphabetic", "dy": 38, "fontSize": 21},
        "encoding": {"text": {"field": "key"}}}
     ]}
  ]},
  {"spacing": 32.7, "vconcat": [
    {"spacing": 46, "vconcat": [
      {"title": {"text": "B", "orient": "top", "anchor": "start", "frame": "group", "fontSize": 58, "offset": 0, "dx": -131, "dy": 7.4},
       "hconcat": [
        {"title": {"text": "CPs", "orient": "left", "anchor": "middle", "font": "Open Sans", "fontSize": 34, "offset": 20, "dx": 24},
         "spacing": 87.8,
         "hconcat": [
          {"spacing": 98.8, "hconcat": [
            {"width": 331, "height": 327,
             "data": {"name": "cp"},
             "transform": [{"filter": "datum.yr == 1993"}, {"fold": ["Cl03","Cl04","Cl05","Cl06","Cl07","Cl08","Cl09","Cl10","Cl11","Cl12","Cl13","Cl14","nd"], "as": ["key","value"]}, {"filter": "datum.value > 0"}],
             "mark": {"type": "bar", "stroke": "#ffffff", "strokeWidth": 1},
             "encoding": {
               "y": {"field": "n", "type": "ordinal", "scale": {"paddingInner": 0.02, "paddingOuter": 0.01}, "axis": {"values": [10,12,14,16,18,20,22,24,26,28,30,32], "domain": false, "ticks": false, "labelPadding": 7, "labelOverlap": false, "title": "Cl-homologue distribution", "titlePadding": 23}},
               "x": {"field": "value", "type": "quantitative", "stack": "zero", "scale": {"domain": [0,100], "nice": false}, "axis": null},
               "color": {"field": "key", "type": "nominal", "legend": null, "scale": {"domain": ["CP","CO","Cl03","Cl04","Cl05","Cl06","Cl07","Cl08","Cl09","Cl10","Cl11","Cl12","Cl13","Cl14","nd"], "range": ["#7b7b7b","#ffffff","#000000","#47302c","#966662","#c87573","#dc3a38","#db000b","#9c004a","#482b84","#003f96","#0058b0","#0090d6","#48b4d8","#ffffff"]}},
               "order": {"field": "key", "sort": "ascending"}
             }},
            {"width": 329, "height": 327,
             "data": {"name": "cp"},
             "transform": [{"filter": "datum.yr == 2007"}, {"fold": ["Cl03","Cl04","Cl05","Cl06","Cl07","Cl08","Cl09","Cl10","Cl11","Cl12","Cl13","Cl14","nd"], "as": ["key","value"]}, {"filter": "datum.value > 0"}],
             "mark": {"type": "bar", "stroke": "#ffffff", "strokeWidth": 1},
             "encoding": {
               "y": {"field": "n", "type": "ordinal", "scale": {"paddingInner": 0.02, "paddingOuter": 0.01}, "axis": {"values": [10,12,14,16,18,20,22,24,26,28,30,32], "domain": false, "ticks": false, "labelPadding": 7, "labelOverlap": false, "title": null}},
               "x": {"field": "value", "type": "quantitative", "stack": "zero", "scale": {"domain": [0,100], "nice": false}, "axis": null},
               "color": {"field": "key", "type": "nominal", "legend": null, "scale": {"domain": ["CP","CO","Cl03","Cl04","Cl05","Cl06","Cl07","Cl08","Cl09","Cl10","Cl11","Cl12","Cl13","Cl14","nd"], "range": ["#7b7b7b","#ffffff","#000000","#47302c","#966662","#c87573","#dc3a38","#db000b","#9c004a","#482b84","#003f96","#0058b0","#0090d6","#48b4d8","#ffffff"]}},
               "order": {"field": "key", "sort": "ascending"}
             }}
          ]},
          {"width": 328, "height": 327,
           "data": {"name": "cp"},
           "transform": [{"filter": "datum.yr == 2020"}, {"fold": ["Cl03","Cl04","Cl05","Cl06","Cl07","Cl08","Cl09","Cl10","Cl11","Cl12","Cl13","Cl14","nd"], "as": ["key","value"]}, {"filter": "datum.value > 0"}],
           "mark": {"type": "bar", "stroke": "#ffffff", "strokeWidth": 1},
           "encoding": {
             "y": {"field": "n", "type": "ordinal", "scale": {"paddingInner": 0.02, "paddingOuter": 0.01}, "axis": {"values": [10,12,14,16,18,20,22,24,26,28,30,32], "domain": false, "ticks": false, "labelPadding": 7, "labelOverlap": false, "title": null}},
             "x": {"field": "value", "type": "quantitative", "stack": "zero", "scale": {"domain": [0,100], "nice": false}, "axis": null},
             "color": {"field": "key", "type": "nominal", "legend": null, "scale": {"domain": ["CP","CO","Cl03","Cl04","Cl05","Cl06","Cl07","Cl08","Cl09","Cl10","Cl11","Cl12","Cl13","Cl14","nd"], "range": ["#7b7b7b","#ffffff","#000000","#47302c","#966662","#c87573","#dc3a38","#db000b","#9c004a","#482b84","#003f96","#0058b0","#0090d6","#48b4d8","#ffffff"]}},
             "order": {"field": "key", "sort": "ascending"}
           }}
        ]}
      ]},
      {"title": {"text": "C", "orient": "top", "anchor": "start", "frame": "group", "fontSize": 58, "offset": 0, "dx": -131, "dy": 13.5},
       "hconcat": [
        {"title": {"text": "COs", "orient": "left", "anchor": "middle", "font": "Open Sans", "fontSize": 34, "offset": 20, "dx": 9},
         "spacing": 91.8,
         "hconcat": [
          {"spacing": 113.8, "hconcat": [
            {"width": 329, "height": 284,
             "data": {"name": "co"},
             "transform": [{"filter": "datum.yr == 1993"}, {"fold": ["Cl03","Cl04","Cl05","Cl06","Cl07","Cl08","Cl09","Cl10","Cl11","Cl12","Cl13","Cl14","nd"], "as": ["key","value"]}, {"filter": "datum.value > 0"}],
             "mark": {"type": "bar"},
             "encoding": {
               "y": {"field": "n", "type": "ordinal", "scale": {"paddingInner": 0.02, "paddingOuter": 0.01}, "axis": {"values": [10,12,14,16,18,20,22,24,26,28], "domain": false, "ticks": false, "labelPadding": 9, "labelOverlap": false, "title": "Cl-homologue distribution", "titlePadding": 21}},
               "x": {"field": "value", "type": "quantitative", "stack": "zero", "scale": {"domain": [0,100], "nice": false}, "axis": null},
               "color": {"field": "key", "type": "nominal", "legend": null, "scale": {"domain": ["CP","CO","Cl03","Cl04","Cl05","Cl06","Cl07","Cl08","Cl09","Cl10","Cl11","Cl12","Cl13","Cl14","nd"], "range": ["#7b7b7b","#ffffff","#000000","#47302c","#966662","#c87573","#dc3a38","#db000b","#9c004a","#482b84","#003f96","#0058b0","#0090d6","#48b4d8","#ffffff"]}},
               "stroke": {"condition": {"test": "datum.key === 'nd'", "value": "#333333"}, "value": "#ffffff"},
               "strokeWidth": {"condition": {"test": "datum.key === 'nd'", "value": 1.5}, "value": 1},
               "order": {"field": "key", "sort": "ascending"}
             }},
            {"width": 328, "height": 255,
             "data": {"name": "co"},
             "transform": [{"filter": "datum.yr == 2007"}, {"fold": ["Cl03","Cl04","Cl05","Cl06","Cl07","Cl08","Cl09","Cl10","Cl11","Cl12","Cl13","Cl14","nd"], "as": ["key","value"]}, {"filter": "datum.value > 0"}],
             "mark": {"type": "bar"},
             "encoding": {
               "y": {"field": "n", "type": "ordinal", "scale": {"paddingInner": 0.02, "paddingOuter": 0.01}, "axis": {"values": [10,12,14,16,18,20,22,24,26], "domain": false, "ticks": false, "labelPadding": 7, "labelOverlap": false, "title": null}},
               "x": {"field": "value", "type": "quantitative", "stack": "zero", "scale": {"domain": [0,100], "nice": false}, "axis": null},
               "color": {"field": "key", "type": "nominal", "legend": null, "scale": {"domain": ["CP","CO","Cl03","Cl04","Cl05","Cl06","Cl07","Cl08","Cl09","Cl10","Cl11","Cl12","Cl13","Cl14","nd"], "range": ["#7b7b7b","#ffffff","#000000","#47302c","#966662","#c87573","#dc3a38","#db000b","#9c004a","#482b84","#003f96","#0058b0","#0090d6","#48b4d8","#ffffff"]}},
               "stroke": {"condition": {"test": "datum.key === 'nd'", "value": "#333333"}, "value": "#ffffff"},
               "strokeWidth": {"condition": {"test": "datum.key === 'nd'", "value": 1.5}, "value": 1},
               "order": {"field": "key", "sort": "ascending"}
             }}
          ]},
          {"width": 326, "height": 237,
           "data": {"name": "co"},
           "transform": [{"filter": "datum.yr == 2020"}, {"fold": ["Cl03","Cl04","Cl05","Cl06","Cl07","Cl08","Cl09","Cl10","Cl11","Cl12","Cl13","Cl14","nd"], "as": ["key","value"]}, {"filter": "datum.value > 0"}],
           "mark": {"type": "bar"},
           "encoding": {
             "y": {"field": "n", "type": "ordinal", "scale": {"paddingInner": 0.02, "paddingOuter": 0.01}, "axis": {"values": [10,12,14,16,18,20,22,24], "domain": false, "ticks": false, "labelPadding": 9, "labelOverlap": false, "title": null}},
             "x": {"field": "value", "type": "quantitative", "stack": "zero", "scale": {"domain": [0,100], "nice": false}, "axis": null},
             "color": {"field": "key", "type": "nominal", "legend": null, "scale": {"domain": ["CP","CO","Cl03","Cl04","Cl05","Cl06","Cl07","Cl08","Cl09","Cl10","Cl11","Cl12","Cl13","Cl14","nd"], "range": ["#7b7b7b","#ffffff","#000000","#47302c","#966662","#c87573","#dc3a38","#db000b","#9c004a","#482b84","#003f96","#0058b0","#0090d6","#48b4d8","#ffffff"]}},
             "stroke": {"condition": {"test": "datum.key === 'nd'", "value": "#333333"}, "value": "#ffffff"},
             "strokeWidth": {"condition": {"test": "datum.key === 'nd'", "value": 1.5}, "value": 1},
             "order": {"field": "key", "sort": "ascending"}
           }}
        ]}
      ]}
    ]},
    {"bounds": "flush", "spacing": 140, "hconcat": [
      {"width": 1056, "height": 26,
       "data": {"name": "legcl"},
       "encoding": {"x": {"field": "key", "type": "nominal", "scale": {"type": "point", "padding": 0.042}, "axis": null}},
       "layer": [
         {"mark": {"type": "point", "shape": "square", "size": 676, "filled": true, "opacity": 1},
          "encoding": {"color": {"field": "key", "type": "nominal", "legend": null, "scale": {"domain": ["CP","CO","Cl03","Cl04","Cl05","Cl06","Cl07","Cl08","Cl09","Cl10","Cl11","Cl12","Cl13","Cl14","nd"], "range": ["#7b7b7b","#ffffff","#000000","#47302c","#966662","#c87573","#dc3a38","#db000b","#9c004a","#482b84","#003f96","#0058b0","#0090d6","#48b4d8","#ffffff"]}}}},
         {"mark": {"type": "text", "text": "Cl", "align": "right", "baseline": "alphabetic", "dx": 9, "dy": 41, "fontSize": 21}},
         {"mark": {"type": "text", "align": "left", "baseline": "alphabetic", "dx": 10, "dy": 45, "fontSize": 13},
          "encoding": {"text": {"field": "sub"}}}
       ]},
      {"width": 24, "height": 26,
       "data": {"values": [{"key": "nd", "lab": "n.d."}]},
       "encoding": {"x": {"field": "key", "type": "nominal", "scale": {"type": "point", "padding": 0.5}, "axis": null}},
       "layer": [
         {"mark": {"type": "point", "shape": "square", "size": 676, "filled": true, "opacity": 1, "stroke": "#333", "strokeWidth": 1.5},
          "encoding": {"color": {"field": "key", "type": "nominal", "legend": null, "scale": {"domain": ["CP","CO","Cl03","Cl04","Cl05","Cl06","Cl07","Cl08","Cl09","Cl10","Cl11","Cl12","Cl13","Cl14","nd"], "range": ["#7b7b7b","#ffffff","#000000","#47302c","#966662","#c87573","#dc3a38","#db000b","#9c004a","#482b84","#003f96","#0058b0","#0090d6","#48b4d8","#ffffff"]}}}},
         {"mark": {"type": "text", "baseline": "alphabetic", "dy": 42, "fontSize": 21},
          "encoding": {"text": {"field": "lab"}}}
       ]}
    ]}
  ]}
]
}
